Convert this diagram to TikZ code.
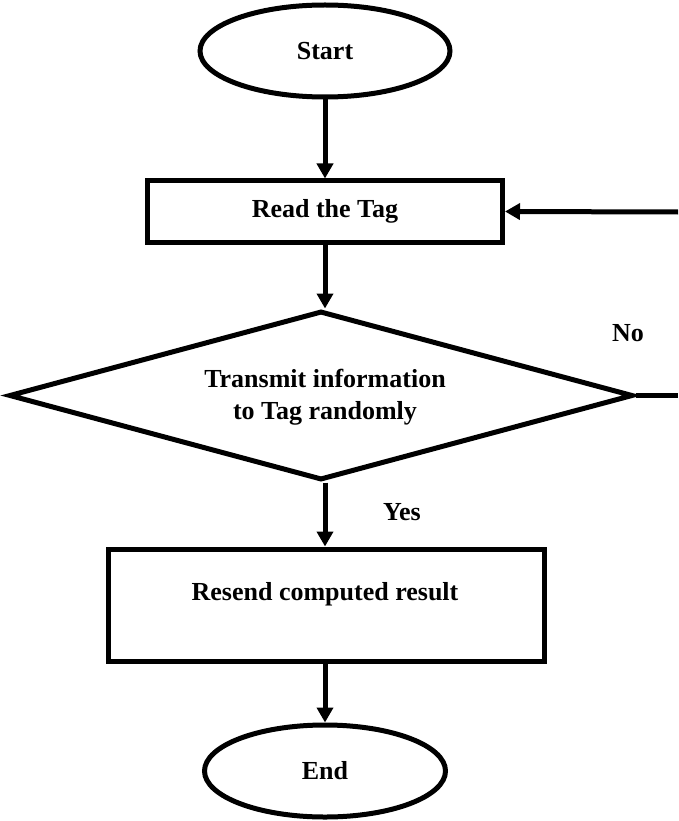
\documentclass[tikz,border=0pt]{standalone}
\usepackage{fontspec}
\setmainfont{Liberation Serif}
\usetikzlibrary{shapes.geometric,arrows.meta}
\begin{document}
\begin{tikzpicture}[x=1pt,y=-1pt,
  every node/.style={font=\bfseries\fontsize{26}{32}\selectfont},
  flowline/.style={line width=5pt},
  flowarrow/.style={flowline,-{Triangle[length=15pt,width=16pt]}},
  terminal/.style={draw,line width=5pt,ellipse,inner sep=0pt},
  process/.style={draw,line width=5pt,rectangle,inner sep=0pt},
  decision/.style={draw,line width=5pt,diamond,inner sep=0pt,aspect=3.7},
  textonly/.style={inner sep=0pt,align=center}]
  \useasboundingbox (0,0) rectangle (678,821);

  % terminals and steps
  \node[terminal,minimum width=250pt,minimum height=92pt] (start) at (325,51) {Start};
  \node[process,minimum width=355pt,minimum height=61pt] (read) at (325,211.5) {Read the Tag};
  \node[decision,minimum width=624pt,minimum height=169pt] (dec) at (321,395.5) {};
  \node[textonly] (dectext) at (325,397) {Transmit information\\to Tag randomly};
  \node[process,minimum width=436pt,minimum height=112pt] (resend) at (326,605) {};
  \node[textonly] (resendtext) at (325,594) {Resend computed result};
  \node[terminal,minimum width=241pt,minimum height=92pt] (end) at (325,771) {End};

  % branch labels
  \node[textonly] (no) at (628,333) {No};
  \node[textonly] (yes) at (402,512) {Yes};

  % loop-back ends at the right border
  \coordinate (loopin) at (678,212);
  \coordinate (loopout) at (678,395.5);

  % connectors
  \draw[flowarrow] (start.south) -- (read.north);
  \draw[flowarrow] (read.south) -- (read.south |- dec.north);
  \draw[flowarrow] (dec.south -| read.south) -- (read.south |- resend.north);
  \draw[flowarrow] (resend.south -| end.north) -- (end.north);
  \draw[flowline] (dec.east) -- (loopout);
  \draw[flowarrow] (loopin) -- (read.east);
\end{tikzpicture}
\end{document}
